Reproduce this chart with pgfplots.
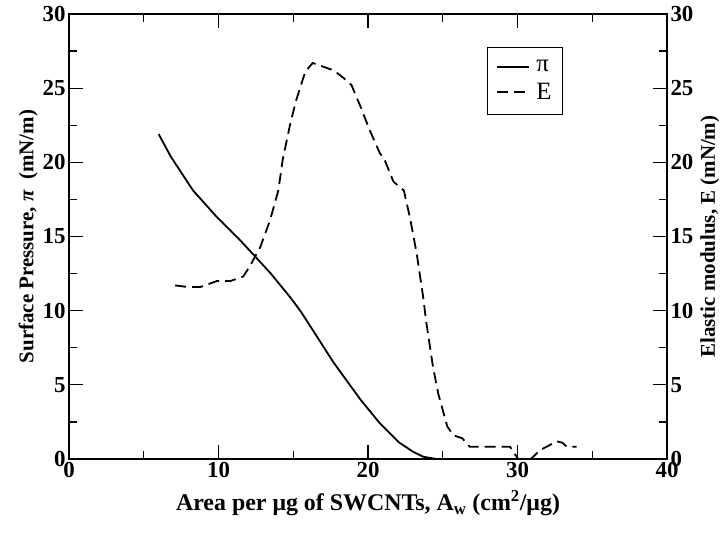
\documentclass[border=0pt]{standalone}
\usepackage{fontspec}
\setmainfont{Liberation Serif}
\usepackage{pgfplots}
\pgfplotsset{compat=1.18}

\pgfplotsset{
  common/.style={
    scale only axis, width=598bp, height=445bp,
    xmin=0, xmax=40, ymin=0, ymax=30,
    xtick={0,10,20,30,40}, ytick={0,5,...,30},
    minor x tick num=1, minor y tick num=1,
    tick align=inside,
    major tick length=14bp, minor tick length=8bp,
    every tick/.style={black, line width=1.2bp},
    axis line style={line width=1.5bp},
    /pgf/number format/assume math mode=true,
    ticklabel style={font=\fontsize{23}{26}\selectfont\bfseries},
    label style={font=\fontsize{21}{24}\selectfont\bfseries},
  },
}

\begin{document}
\begin{tikzpicture}
\begin{axis}[
  common,
  ytick pos=left, xtick pos=both,
  xlabel={Area per μg of SWCNTs, A\textsubscript{w} (cm\textsuperscript{2}/μg)},
  xlabel style={font=\fontsize{24}{26}\selectfont\bfseries, yshift=-6bp},
  ylabel={Surface Pressure, \textit{π}\ \ (mN/m)},
  ylabel style={yshift=-2bp},
  legend style={at={(0.699,0.926)}, anchor=north west, draw=black, line width=1bp,
    font=\fontsize{25}{27}\selectfont, inner xsep=9bp, inner ysep=11bp, row sep=6bp},
  legend cell align=left,
  legend image code/.code={\draw[#1] (0bp,0bp) -- (32bp,0bp); \path (36bp,0bp);},
]
\addplot[black, line width=1.8bp] coordinates {
  (6.0,21.9)(6.8,20.4)(8.3,18.1)(9.9,16.3)(11.4,14.8)(12.5,13.6)(13.5,12.5)
  (14.8,10.9)(15.5,9.95)(16.3,8.7)(17.7,6.5)(19.5,4.0)(20.8,2.4)(22.1,1.1)
  (23.0,0.5)(23.7,0.15)(24.6,0)(34,0)
};
\addlegendentry{π}
\addplot[black, line width=1.8bp, dash pattern=on 11bp off 6bp] coordinates {
  (7.1,11.7)(7.9,11.6)(8.8,11.6)(9.9,12.0)(10.8,12.0)(11.65,12.3)(12.1,13.0)
  (12.8,14.3)(13.45,16.1)(14.0,18.1)(14.3,20.2)(14.8,22.6)(15.2,24.2)(15.8,26.1)
  (16.3,26.7)(17.0,26.45)(17.7,26.2)(18.35,25.7)(18.9,25.2)(19.5,23.75)(20.1,22.2)
  (20.8,20.6)(21.1,20.2)(21.7,18.7)(22.4,18.1)(22.8,16.3)(23.25,13.9)(23.7,10.85)
  (23.9,9.2)(24.35,6.2)(24.7,4.4)(25.3,2.2)(25.7,1.6)(26.3,1.4)(26.8,0.83)
  (29.5,0.83)(30.05,0.0)(30.9,0.0)(31.5,0.6)(32.0,0.85)(32.6,1.2)(33.0,1.1)
  (33.3,0.83)(33.95,0.83)
};
\addlegendentry{E}
\coordinate (o) at (rel axis cs:0,0);
\coordinate (t) at (rel axis cs:1,1);
\end{axis}
\begin{axis}[
  common,
  axis x line=none,
  axis y line*=right,
  ytick pos=right,
  ylabel={Elastic modulus, E (mN/m)},
  ylabel near ticks,
  ylabel style={font=\fontsize{21}{24}\selectfont\bfseries},
]
\end{axis}
% page margins as in the reference
\path ([shift={(-69bp,-76bp)}]o) rectangle ([shift={(57bp,14bp)}]t);
\end{tikzpicture}
\end{document}
